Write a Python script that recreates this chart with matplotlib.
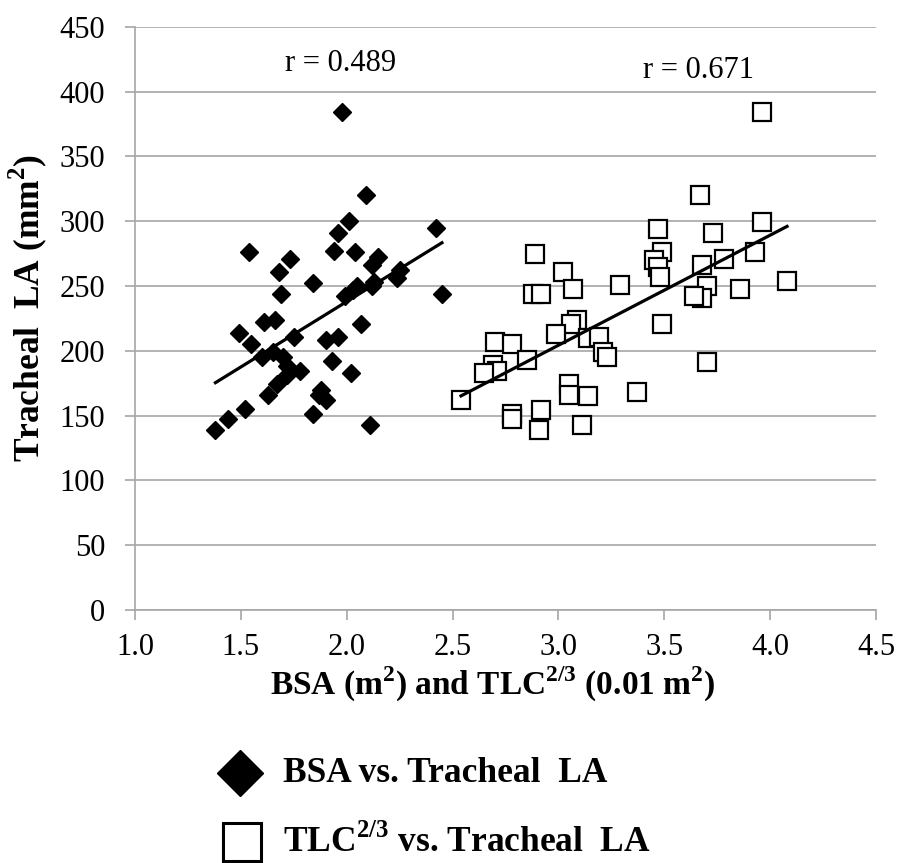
import numpy as np
import matplotlib
matplotlib.use("Agg")
import matplotlib.pyplot as plt
from matplotlib.lines import Line2D

plt.rcParams['font.family'] = ['Liberation Serif', 'DejaVu Serif']
plt.rcParams['mathtext.fontset'] = 'custom'
plt.rcParams['mathtext.rm'] = 'Liberation Serif'
plt.rcParams['mathtext.bf'] = 'Liberation Serif:bold'

# BSA (m^2) vs tracheal lumen area (mm^2)
bsa = [1.98, 2.09, 2.01, 1.96, 2.42, 1.54, 1.94, 2.04, 1.73, 1.68,
       2.15, 2.12, 2.25, 2.24, 1.84, 1.69, 2.45, 2.05, 2.12, 1.99,
       2.03, 2.13, 1.61, 1.66, 2.07, 1.49, 1.55, 1.75, 1.90, 1.96,
       1.60, 1.65, 1.70, 1.72, 1.93, 1.78, 2.02, 1.72, 1.67, 1.63,
       1.88, 1.87, 1.90, 1.52, 1.84, 1.44, 1.38, 2.11]
bsa_la = [384, 320, 300, 291, 295, 276, 277, 276, 271, 261,
          272, 266, 262, 256, 252, 244, 244, 250, 250, 242,
          247, 253, 222, 224, 221, 214, 205, 211, 208, 211,
          195, 199, 195, 188, 192, 184, 183, 181, 174, 166,
          170, 166, 162, 155, 151, 147, 139, 143]

# TLC^(2/3) (0.01 m^2) vs tracheal lumen area (mm^2)
tlc = [3.96, 3.67, 3.47, 3.73, 3.96, 2.89, 3.02, 3.49, 3.45, 3.47,
       3.48, 3.68, 3.78, 3.93, 2.88, 2.92, 3.07, 3.29, 3.70, 3.68,
       3.64, 3.86, 4.08, 3.49, 3.09, 3.06, 2.99, 3.14, 3.19, 3.21,
       3.23, 3.70, 2.70, 2.78, 2.85, 2.69, 2.71, 2.65, 3.05, 3.05,
       3.14, 3.37, 2.54, 2.78, 2.78, 2.92, 2.91, 3.11]
tlc_la = [384, 320, 294, 291, 299, 275, 261, 276, 270, 265,
          257, 266, 271, 276, 244, 244, 248, 251, 250, 241,
          242, 248, 254, 221, 224, 221, 213, 210, 211, 199,
          195, 191, 207, 205, 193, 189, 184, 183, 174, 166,
          165, 168, 162, 151, 147, 154, 139, 143]

r_labels = ['r = 0.489', 'r = 0.671']

fig = plt.figure(figsize=(9.01, 8.63), dpi=100)
ax = fig.add_axes([0.1498, 0.2932, 0.8224, 0.6758])

grid_col = '#a6a6a6'
ax.set_xlim(1.0, 4.5)
ax.set_ylim(0, 450)
ax.set_xticks(np.arange(1.0, 4.51, 0.5))
ax.set_yticks(np.arange(0, 451, 50))
ax.set_xticklabels([f'{v:.1f}' for v in np.arange(1.0, 4.51, 0.5)])
ax.yaxis.grid(True, color=grid_col, lw=1.2)
ax.set_axisbelow(True)
for side in ['top', 'right']:
    ax.spines[side].set_visible(False)
for side in ['left', 'bottom']:
    ax.spines[side].set_color(grid_col)
    ax.spines[side].set_linewidth(1.2)
ax.tick_params(axis='both', colors=grid_col, length=7.5, width=1.2, labelsize=22,
               labelcolor='black')
ax.tick_params(axis='x', pad=9)
ax.tick_params(axis='y', pad=14)

# scatter points
ax.plot(bsa, bsa_la, ls='none', marker='D', ms=9.5, mfc='black', mec='black', mew=1, zorder=3)
ax.plot(tlc, tlc_la, ls='none', marker='s', ms=12.5, mfc='white', mec='black', mew=1.6, zorder=4)

# linear trend lines over each data range
for xs, ys in [(bsa, bsa_la), (tlc, tlc_la)]:
    xs = np.array(xs)
    k, b = np.polyfit(xs, ys, 1)
    xx = np.array([xs.min(), xs.max()])
    ax.plot(xx, k * xx + b, color='black', lw=2.3, zorder=5)

ax.text(1.97, 422, r_labels[0], fontsize=22, ha='center', va='center')
ax.text(3.66, 416, r_labels[1], fontsize=22, ha='center', va='center')

fig.text(493 / 901, 1 - 695 / 863,
         r'BSA (m$^{\mathbf{2}}$) and TLC$^{\mathbf{2/3}}$ (0.01 m$^{\mathbf{2}}$)',
         fontsize=24, fontweight='bold', ha='center', va='baseline')
fig.text(28 / 901, 1 - 308 / 863, r'Tracheal  LA (mm$^{\mathbf{2}}$)',
         fontsize=25.5, fontweight='bold', ha='center', va='center', rotation=90)

# legend
fig.add_artist(Line2D([240 / 901], [1 - 773 / 863], transform=fig.transFigure,
                      marker='D', ms=23, mfc='black', mec='black', ls='none'))
fig.add_artist(Line2D([242 / 901], [1 - 842 / 863], transform=fig.transFigure,
                      marker='s', ms=27, mfc='white', mec='black', mew=2.2, ls='none'))
fig.text(283 / 901, 1 - 773 / 863, 'BSA vs. Tracheal  LA',
         fontsize=25.5, fontweight='bold', va='center')
fig.text(283 / 901, 1 - 842 / 863, r'TLC$^{\mathbf{2/3}}$ vs. Tracheal  LA',
         fontsize=25.5, fontweight='bold', va='center')

fig.savefig('out.png', dpi=100)
